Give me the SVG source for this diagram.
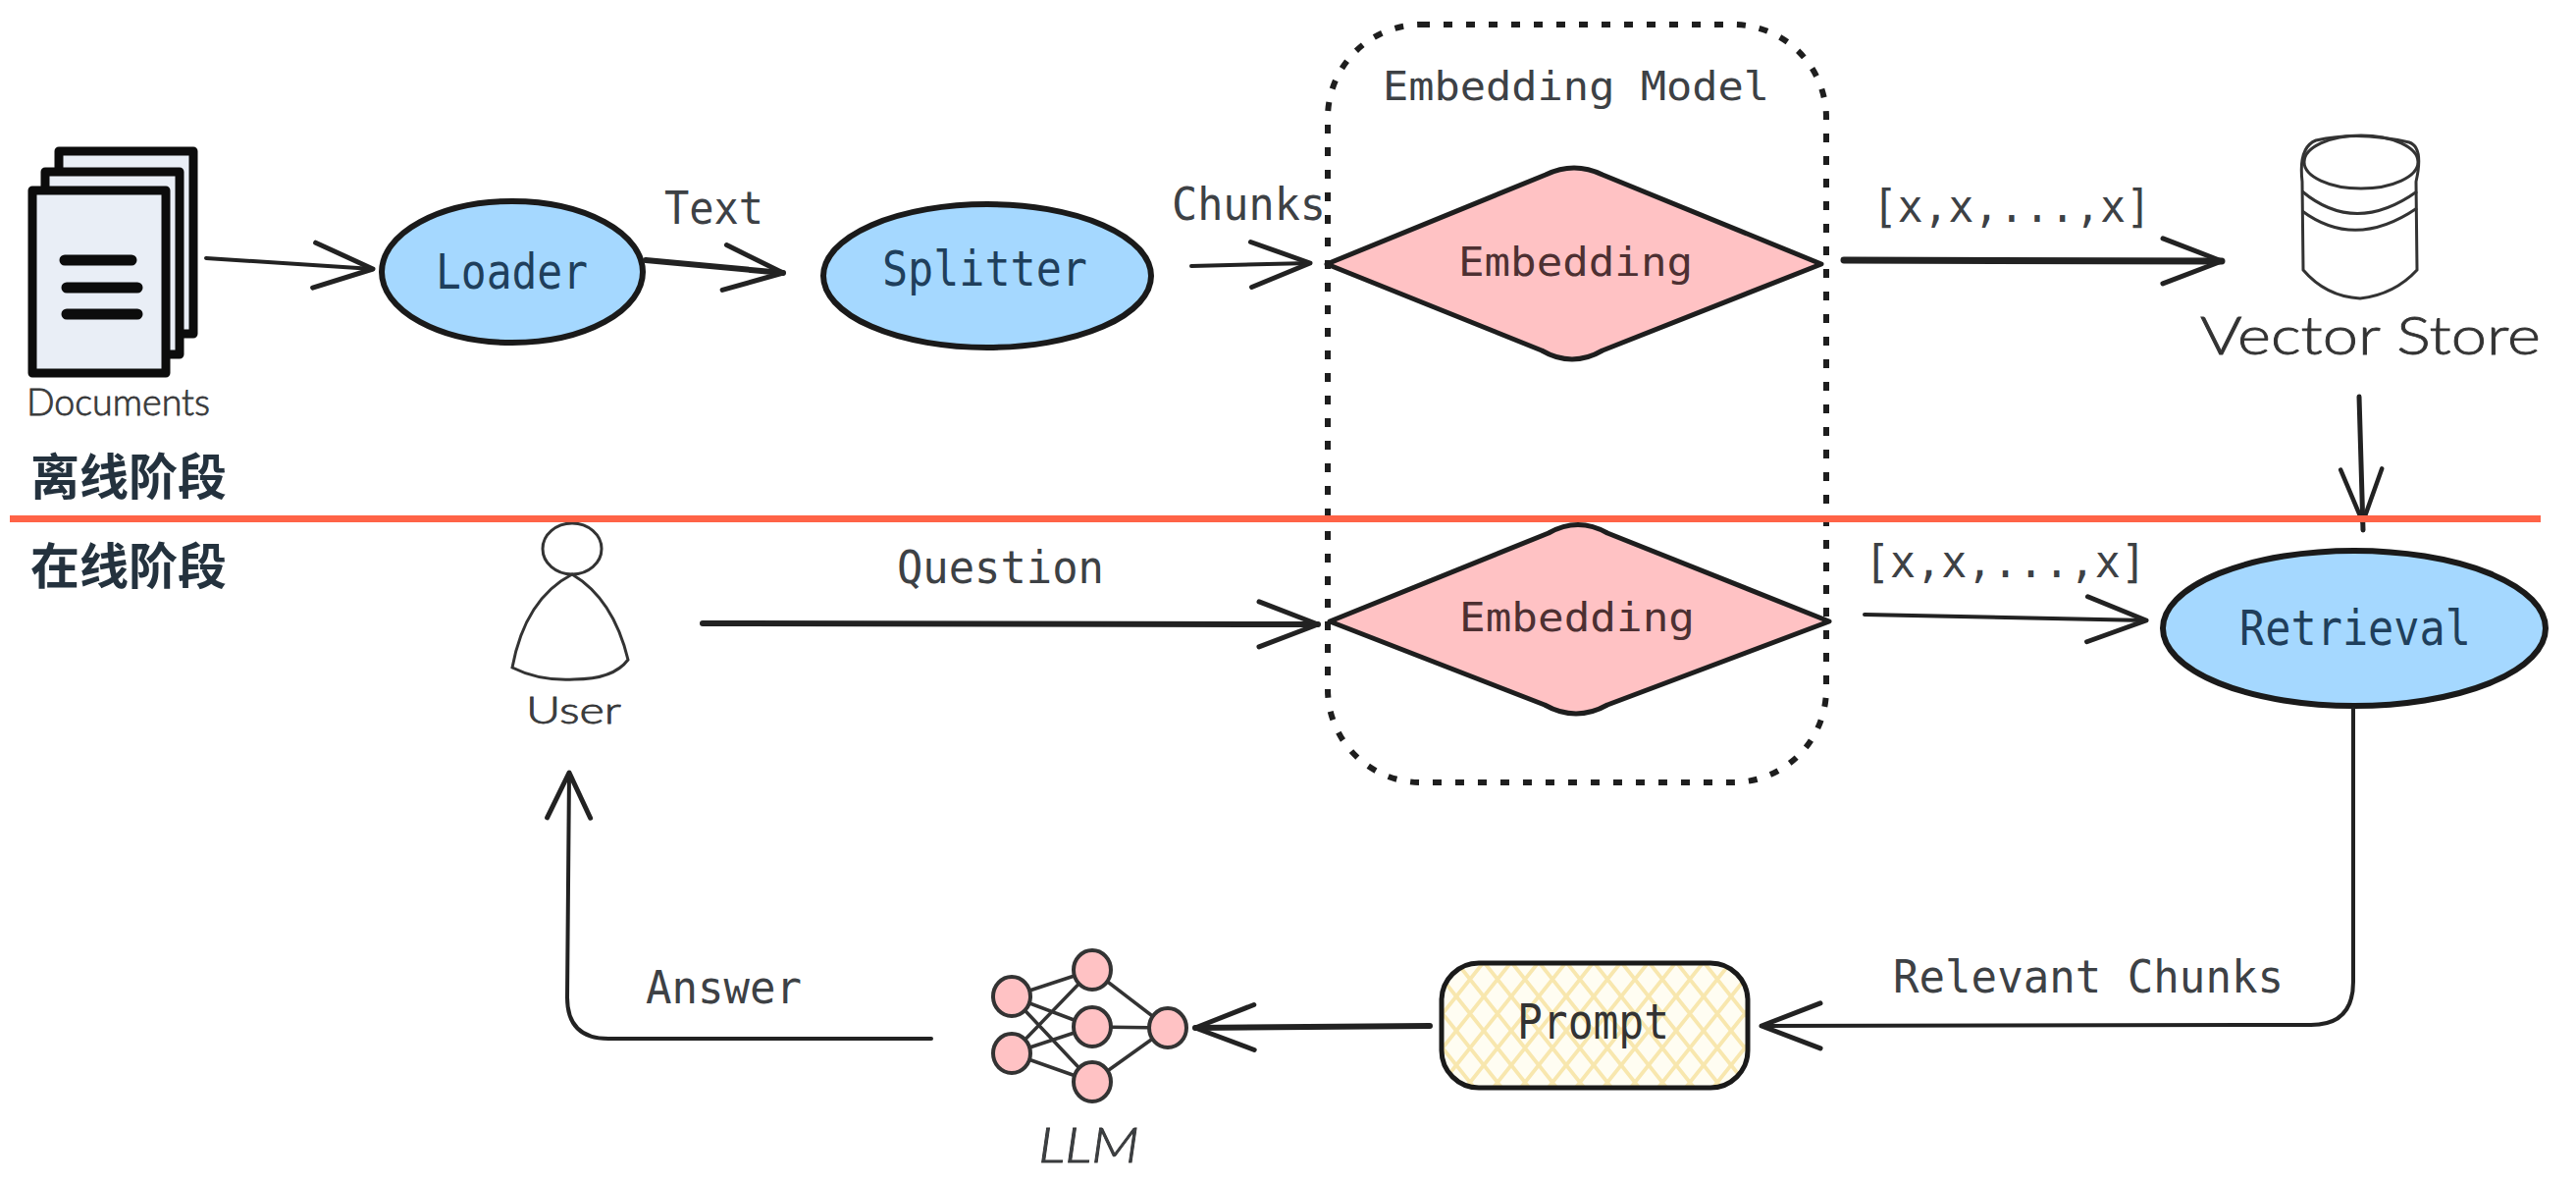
<svg xmlns="http://www.w3.org/2000/svg" width="2625" height="1203" viewBox="0 0 2625 1203">
<style>
.mono{font-family:"DejaVu Sans Mono","Liberation Mono",monospace;font-size:46px}
.wide{font-size:41px}
.hand{font-family:"Lato","Noto Sans",sans-serif;font-weight:300;stroke:#333;stroke-width:.8}
.lab{fill:#3d4145}
.blue{fill:#a5d8ff;stroke:#1a1a1a;stroke-width:6}
.bt{fill:#1f3f5c;font-size:49px}
.pink{fill:#ffc2c4;stroke:#1e1e1e;stroke-width:5;stroke-linejoin:round}
.pt{fill:#4d3032}
.doc{fill:#e9eef6;stroke:#0c0c0c;stroke-width:9;stroke-linejoin:round}
.dl{stroke:#0c0c0c;stroke-width:11;stroke-linecap:round}
.net{stroke:#333;stroke-width:3.5;fill:none}
.nn{fill:#ffc2c4;stroke:#333;stroke-width:4}
.sk{fill:none;stroke:#333;stroke-width:3}
.a{fill:none;stroke:#222;stroke-width:4;stroke-linecap:round;stroke-linejoin:round}
.a2{stroke-width:6}
.a3{stroke-width:7}
.cn{font-family:"Noto Sans CJK SC",sans-serif;font-weight:700;font-size:50px;fill:#24323e}
</style>
<defs>
<marker id="h" markerUnits="userSpaceOnUse" viewBox="-70 -30 80 60" refX="0" refY="0" markerWidth="80" markerHeight="60" orient="auto"><path d="M-60,-23 L0,0 L-60,23" fill="none" stroke="#222" stroke-width="5" stroke-linecap="round" stroke-linejoin="round"/></marker>
<marker id="hs" markerUnits="userSpaceOnUse" viewBox="-70 -30 80 60" refX="0" refY="0" markerWidth="80" markerHeight="60" orient="auto"><path d="M-46,-22 L0,0 L-46,22" fill="none" stroke="#222" stroke-width="5" stroke-linecap="round" stroke-linejoin="round"/></marker>
<marker id="hn" markerUnits="userSpaceOnUse" viewBox="-70 -30 80 60" refX="0" refY="0" markerWidth="80" markerHeight="60" orient="auto"><path d="M-62,-21 L-8,0 L-62,21" fill="none" stroke="#222" stroke-width="4.5" stroke-linecap="round" stroke-linejoin="round"/></marker>
<pattern id="hatch" patternUnits="userSpaceOnUse" width="28" height="28" patternTransform="scale(1 1.25)"><rect width="28" height="28" fill="#fffdf2"/><path d="M0,0L28,28M28,0L0,28" stroke="#f8e7ae" stroke-width="3.5"/></pattern>
</defs>
<rect width="2625" height="1203" fill="#fff"/>
<g id="embedding-model">
<rect x="1353" y="25" width="508" height="772" rx="95" fill="none" stroke="#1e1e1e" stroke-width="6" stroke-dasharray="9 14"/>
<text class="mono wide lab" x="1409" y="102" textLength="394" lengthAdjust="spacingAndGlyphs">Embedding Model</text>
</g>
<g id="documents">
<rect class="doc" x="60" y="154" width="137" height="186"/>
<rect class="doc" x="46" y="175" width="137" height="186"/>
<rect class="doc" x="33" y="194" width="136" height="186"/>
<path class="dl" d="M66,265H134M68,293H140M68,320H140"/>
<text class="hand lab" x="27" y="423" font-size="38" textLength="187" lengthAdjust="spacingAndGlyphs">Documents</text>
</g>
<g id="loader">
<ellipse class="blue" cx="522" cy="277" rx="133" ry="72"/>
<text class="mono bt" x="444" y="294" textLength="155" lengthAdjust="spacingAndGlyphs">Loader</text>
</g>
<g id="splitter">
<ellipse class="blue" cx="1006" cy="281" rx="167" ry="73"/>
<text class="mono bt" x="899" y="291" textLength="209" lengthAdjust="spacingAndGlyphs">Splitter</text>
</g>
<g id="embedding-1">
<path class="pink" d="M1352,269 L1575,178 Q1604,164 1633,178 L1856,269 L1633,357 Q1602,375 1571,357 Z"/>
<text class="mono wide pt" x="1486" y="281" textLength="239" lengthAdjust="spacingAndGlyphs">Embedding</text>
</g>
<g id="embedding-2">
<path class="pink" d="M1355,633 L1578,543 Q1608,526 1638,543 L1864,633 L1638,718 Q1606,736 1574,718 Z"/>
<text class="mono wide pt" x="1487" y="643" textLength="240" lengthAdjust="spacingAndGlyphs">Embedding</text>
</g>
<g id="vector-store" class="sk">
<path d="M2346,185 Q2342,150 2360,143 Q2404,133 2455,145 Q2470,150 2462,185 L2463,275 Q2440,300 2405,304 Q2370,302 2347,275 Z" fill="#fff"/>
<ellipse cx="2406" cy="165" rx="58" ry="27"/>
<path d="M2346,195 Q2400,240 2463,195M2346,215 Q2400,255 2463,212"/>
<text class="hand" x="2242" y="361" font-size="54" fill="#333" textLength="347" lengthAdjust="spacingAndGlyphs">Vector Store</text>
</g>
<g id="retrieval">
<ellipse class="blue" cx="2399" cy="640" rx="195" ry="79"/>
<text class="mono bt" x="2282" y="657" textLength="236" lengthAdjust="spacingAndGlyphs">Retrieval</text>
</g>
<g id="user">
<ellipse class="sk" cx="583" cy="559" rx="30" ry="26"/>
<path class="sk" d="M583,585 Q535,610 522,680 Q550,694 585,692 Q625,692 640,672 Q625,610 583,585 Z"/>
<text class="hand lab" x="536" y="737" font-size="38" textLength="97" lengthAdjust="spacingAndGlyphs">User</text>
</g>
<g id="prompt">
<rect x="1469" y="981" width="312" height="127" rx="38" fill="url(#hatch)" stroke="#1a1a1a" stroke-width="5"/>
<text class="mono" style="font-size:49px" fill="#333" x="1546" y="1058" textLength="155" lengthAdjust="spacingAndGlyphs">Prompt</text>
</g>
<g id="llm">
<path class="net" d="M1031,1015L1113,988M1031,1015L1113,1046M1031,1015L1113,1102M1031,1073L1113,988M1031,1073L1113,1046M1031,1073L1113,1102M1113,988L1190,1047M1113,1046L1190,1047M1113,1102L1190,1047"/>
<ellipse class="nn" cx="1031" cy="1015" rx="19" ry="20"/>
<ellipse class="nn" cx="1031" cy="1073" rx="19" ry="20"/>
<ellipse class="nn" cx="1113" cy="988" rx="19" ry="20"/>
<ellipse class="nn" cx="1113" cy="1046" rx="19" ry="20"/>
<ellipse class="nn" cx="1113" cy="1102" rx="19" ry="20"/>
<ellipse class="nn" cx="1190" cy="1047" rx="19" ry="20"/>
<text class="hand lab" x="1058" y="1184" font-size="50" font-style="italic" textLength="103" lengthAdjust="spacingAndGlyphs">LLM</text>
</g>
<g id="connectors">
<path class="a" marker-end="url(#h)" d="M210,263L380,274"/>
<path class="a a2" marker-end="url(#h)" d="M658,265L798,278"/>
<path class="a" marker-end="url(#h)" d="M1214,271L1335,268"/>
<path class="a a3" marker-end="url(#h)" d="M1879,265L2264,266"/>
<path class="a" style="stroke-width:5" marker-end="url(#hn)" d="M2404,404L2408,540"/>
<path class="a a2" marker-end="url(#h)" d="M716,635L1343,636"/>
<path class="a" marker-end="url(#h)" d="M1900,626L2187,632"/>
<path class="a" marker-end="url(#h)" d="M2398,722V1000Q2398,1044 2355,1044L1795,1045"/>
<path class="a a2" marker-end="url(#h)" d="M1457,1045L1218,1047"/>
<path class="a" marker-end="url(#hs)" d="M949,1058H620Q578,1058 578,1016L580,787"/>
</g>
<g id="labels">
<text class="mono lab" x="677" y="228" textLength="101" lengthAdjust="spacingAndGlyphs">Text</text>
<text class="mono lab" x="1194" y="224" textLength="157" lengthAdjust="spacingAndGlyphs">Chunks</text>
<text class="mono lab" x="1908" y="226" textLength="284" lengthAdjust="spacingAndGlyphs">[x,x,...,x]</text>
<text class="mono lab" x="1900" y="588" textLength="287" lengthAdjust="spacingAndGlyphs">[x,x,...,x]</text>
<text class="mono lab" x="914" y="594" textLength="211" lengthAdjust="spacingAndGlyphs">Question</text>
<text class="mono lab" x="1929" y="1011" textLength="398" lengthAdjust="spacingAndGlyphs">Relevant Chunks</text>
<text class="mono lab" x="658" y="1022" textLength="159" lengthAdjust="spacingAndGlyphs">Answer</text>
</g>
<g id="phases">
<rect x="10" y="525" width="2579" height="7" fill="#ff6347"/>
<text class="cn" x="31" y="504">离线阶段</text>
<text class="cn" x="31" y="595">在线阶段</text>
</g>
</svg>
